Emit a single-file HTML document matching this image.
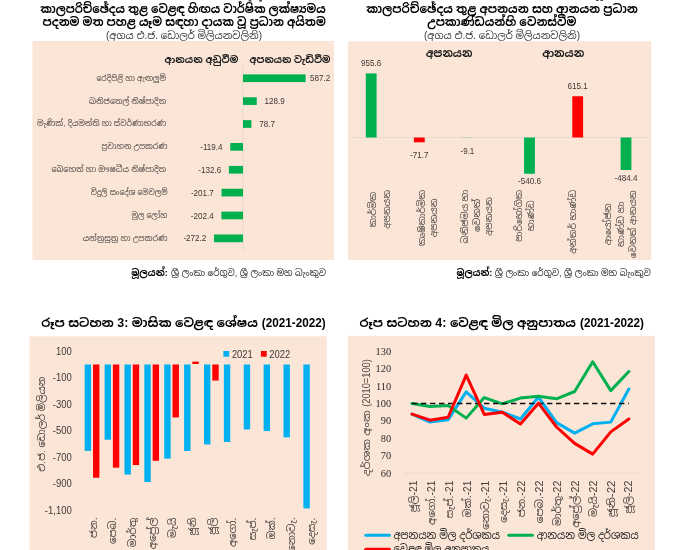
<!DOCTYPE html>
<html><head><meta charset="utf-8"><title>charts</title>
<style>
html,body{margin:0;padding:0;background:#fff;}
body{width:690px;height:550px;overflow:hidden;font-family:"Liberation Sans",sans-serif;}
svg{display:block;}
svg text.si{font-family:"Liberation Sans","Noto Sans Sinhala","Noto Serif Sinhala",sans-serif;}
</style></head><body>
<svg width="690" height="550" viewBox="0 0 690 550">
<defs>
<filter id="bl" x="0" y="0" width="100%" height="100%" filterUnits="userSpaceOnUse" primitiveUnits="userSpaceOnUse"><feGaussianBlur stdDeviation="0.55"/></filter>
</defs>
<g filter="url(#bl)">
<rect x="-5" y="-5" width="700" height="560" fill="#fff"/>
<rect x="32.5" y="41" width="301.6" height="218.9" fill="#FBE5D6"/>
<text class="si" x="40.3" y="12.6" font-size="12" font-weight="bold" fill="#000" textLength="285.3" lengthAdjust="spacingAndGlyphs">කාලපරිච්ඡේදය තුළ වෙළඳ හිඟය වාර්ෂික ලක්ෂ්‍යමය</text>
<text class="si" x="42.6" y="26.2" font-size="12" font-weight="bold" fill="#000" textLength="283.2" lengthAdjust="spacingAndGlyphs">පදනම මත පහළ යෑම සඳහා දායක වූ ප්‍රධාන අයිතම</text>
<text class="si" x="106" y="38.7" font-size="10" fill="#38332f" textLength="156" lengthAdjust="spacingAndGlyphs">(අගය එ.ජ. ඩොලර් මිලියනවලිනි)</text>
<text class="si" x="164.6" y="63.3" font-size="9.6" font-weight="bold" fill="#1a1a1a" textLength="73.7" lengthAdjust="spacingAndGlyphs">ආනයන අඩුවීම</text>
<text class="si" x="249.5" y="63.3" font-size="9.6" font-weight="bold" fill="#1a1a1a" textLength="81" lengthAdjust="spacingAndGlyphs">අපනයන වැඩිවීම</text>
<line x1="243" y1="66" x2="243" y2="251" stroke="#e6d6cb" stroke-width="0.8"/>
<rect x="243" y="74.4" width="62.6" height="7.7" fill="#00B050"/>
<text transform="translate(310.1 81.4) scale(0.94 1)" font-size="8.6" font-family="Liberation Sans" fill="#3c3836">587.2</text>
<text class="si" x="96.5" y="80.7" font-size="8" fill="#4a4643" textLength="69.6" lengthAdjust="spacingAndGlyphs">රෙදිපිළි හා ඇඟලුම්</text>
<rect x="243" y="97.27" width="13.74" height="7.7" fill="#00B050"/>
<text transform="translate(264.54 104.27) scale(0.94 1)" font-size="8.6" font-family="Liberation Sans" fill="#3c3836">128.9</text>
<text class="si" x="89" y="103.57" font-size="8" fill="#4a4643" textLength="77.2" lengthAdjust="spacingAndGlyphs">ඛනිජතෙල් නිෂ්පාදිත</text>
<rect x="243" y="120.14" width="8.39" height="7.7" fill="#00B050"/>
<text transform="translate(259.19 127.14) scale(0.94 1)" font-size="8.6" font-family="Liberation Sans" fill="#3c3836">78.7</text>
<text class="si" x="37.1" y="126.44" font-size="8" fill="#4a4643" textLength="128.9" lengthAdjust="spacingAndGlyphs">මැණික්, දියමන්ති හා ස්වර්ණාභරණ</text>
<rect x="230.27" y="143.01" width="12.73" height="7.7" fill="#00B050"/>
<text transform="translate(222.57 150.01) scale(0.94 1)" font-size="8.6" font-family="Liberation Sans" fill="#3c3836" text-anchor="end">-119.4</text>
<text class="si" x="101.5" y="149.31" font-size="8" fill="#4a4643" textLength="66" lengthAdjust="spacingAndGlyphs">ප්‍රවාහන උපකරණ</text>
<rect x="228.86" y="165.88" width="14.14" height="7.7" fill="#00B050"/>
<text transform="translate(221.16 172.88) scale(0.94 1)" font-size="8.6" font-family="Liberation Sans" fill="#3c3836" text-anchor="end">-132.6</text>
<text class="si" x="51.4" y="172.18" font-size="8" fill="#4a4643" textLength="114.8" lengthAdjust="spacingAndGlyphs">බෙහෙත් හා ඖෂධීය නිෂ්පාදිත</text>
<rect x="221.5" y="188.75" width="21.5" height="7.7" fill="#00B050"/>
<text transform="translate(213.8 195.75) scale(0.94 1)" font-size="8.6" font-family="Liberation Sans" fill="#3c3836" text-anchor="end">-201.7</text>
<text class="si" x="90.7" y="195.05" font-size="8" fill="#4a4643" textLength="77" lengthAdjust="spacingAndGlyphs">විදුලි සංදේශ මෙවලම්</text>
<rect x="221.42" y="211.62" width="21.58" height="7.7" fill="#00B050"/>
<text transform="translate(213.72 218.62) scale(0.94 1)" font-size="8.6" font-family="Liberation Sans" fill="#3c3836" text-anchor="end">-202.4</text>
<text class="si" x="131.6" y="217.92" font-size="8" fill="#4a4643" textLength="35.9" lengthAdjust="spacingAndGlyphs">මූල ලෝහ</text>
<rect x="213.98" y="234.49" width="29.02" height="7.7" fill="#00B050"/>
<text transform="translate(206.28 241.49) scale(0.94 1)" font-size="8.6" font-family="Liberation Sans" fill="#3c3836" text-anchor="end">-272.2</text>
<text class="si" x="82.7" y="240.79" font-size="8" fill="#4a4643" textLength="84.8" lengthAdjust="spacingAndGlyphs">යන්ත්‍රසූත්‍ර හා උපකරණ</text>
<text class="si" x="131.2" y="276.2" font-size="9.6" font-weight="bold" fill="#000" textLength="36.6" lengthAdjust="spacingAndGlyphs">මූලයන්:</text>
<text class="si" x="171" y="276.2" font-size="9.2" fill="#2e2a28" textLength="154.9" lengthAdjust="spacingAndGlyphs">ශ්‍රී ලංකා රේගුව, ශ්‍රී ලංකා මහ බැංකුව</text>
<rect x="348" y="41.3" width="303.3" height="218.7" fill="#FBE5D6"/>
<text class="si" x="366.3" y="12.6" font-size="12" font-weight="bold" fill="#000" textLength="271.4" lengthAdjust="spacingAndGlyphs">කාලපරිච්ඡේදය තුළ අපනයන සහ ආනයන ප්‍රධාන</text>
<text class="si" x="427.3" y="26.2" font-size="12" font-weight="bold" fill="#000" textLength="149.1" lengthAdjust="spacingAndGlyphs">උපකාණ්ඩයන්හි වෙනස්වීම</text>
<text class="si" x="424" y="38.7" font-size="10" fill="#38332f" textLength="156" lengthAdjust="spacingAndGlyphs">(අගය එ.ජ. ඩොලර් මිලියනවලිනි)</text>
<text class="si" x="425.7" y="56.8" font-size="11" font-weight="bold" fill="#1a1a1a" textLength="46.7" lengthAdjust="spacingAndGlyphs">අපනයන</text>
<text class="si" x="542.2" y="56.8" font-size="11" font-weight="bold" fill="#1a1a1a" textLength="42.1" lengthAdjust="spacingAndGlyphs">ආනයන</text>
<line x1="352" y1="137.5" x2="648" y2="137.5" stroke="#e6d6cb" stroke-width="0.8"/>
<rect x="365.8" y="73.38" width="10.8" height="64.12" fill="#00B050"/>
<text transform="translate(371.2 66.4) scale(0.94 1)" font-size="8.6" font-family="Liberation Sans" fill="#3c3836" text-anchor="middle">955.6</text>
<rect x="413.9" y="137.5" width="10.8" height="4.81" fill="#FF0000"/>
<text transform="translate(419.3 158.1) scale(0.94 1)" font-size="8.6" font-family="Liberation Sans" fill="#3c3836" text-anchor="middle">-71.7</text>
<rect x="462" y="137.5" width="10.8" height="0.61" fill="#9fcfae"/>
<text transform="translate(467.4 154.3) scale(0.94 1)" font-size="8.6" font-family="Liberation Sans" fill="#3c3836" text-anchor="middle">-9.1</text>
<rect x="524.1" y="137.5" width="10.8" height="36.27" fill="#00B050"/>
<text transform="translate(529.5 184.4) scale(0.94 1)" font-size="8.6" font-family="Liberation Sans" fill="#3c3836" text-anchor="middle">-540.6</text>
<rect x="572.3" y="96.23" width="10.8" height="41.27" fill="#FF0000"/>
<text transform="translate(577.7 89) scale(0.94 1)" font-size="8.6" font-family="Liberation Sans" fill="#3c3836" text-anchor="middle">615.1</text>
<rect x="620.6" y="137.5" width="10.8" height="32.5" fill="#00B050"/>
<text transform="translate(626 180.9) scale(0.94 1)" font-size="8.6" font-family="Liberation Sans" fill="#3c3836" text-anchor="middle">-484.4</text>
<text class="si" transform="translate(376.2 227.2) rotate(-90)" font-size="9" fill="#4a4643" textLength="35.4" lengthAdjust="spacingAndGlyphs">කාර්මික</text>
<text class="si" transform="translate(389.5 228.66) rotate(-90)" font-size="9" fill="#4a4643" textLength="38.6" lengthAdjust="spacingAndGlyphs">අපනයන</text>
<text class="si" transform="translate(424.6 246.11) rotate(-90)" font-size="9" fill="#4a4643" textLength="56.2" lengthAdjust="spacingAndGlyphs">කෘෂිකාර්මික</text>
<text class="si" transform="translate(437 237.19) rotate(-90)" font-size="9" fill="#4a4643" textLength="38.6" lengthAdjust="spacingAndGlyphs">අපනයන</text>
<text class="si" transform="translate(467.8 243.43) rotate(-90)" font-size="9" fill="#4a4643" textLength="53.8" lengthAdjust="spacingAndGlyphs">ඛනිජමය හා</text>
<text class="si" transform="translate(479.6 232.02) rotate(-90)" font-size="9" fill="#4a4643" textLength="33.3" lengthAdjust="spacingAndGlyphs">වෙනත්</text>
<text class="si" transform="translate(491.8 235.85) rotate(-90)" font-size="9" fill="#4a4643" textLength="38.6" lengthAdjust="spacingAndGlyphs">අපනයන</text>
<text class="si" transform="translate(521.6 241.73) rotate(-90)" font-size="9" fill="#4a4643" textLength="51.8" lengthAdjust="spacingAndGlyphs">පාරිභෝගික</text>
<text class="si" transform="translate(533.8 231.14) rotate(-90)" font-size="9" fill="#4a4643" textLength="30.9" lengthAdjust="spacingAndGlyphs">භාණ්ඩ</text>
<text class="si" transform="translate(575.8 253.72) rotate(-90)" font-size="9" fill="#4a4643" textLength="64" lengthAdjust="spacingAndGlyphs">අන්තර් භාණ්ඩ</text>
<text class="si" transform="translate(611.2 245.28) rotate(-90)" font-size="9" fill="#4a4643" textLength="41.9" lengthAdjust="spacingAndGlyphs">ආයෝජන</text>
<text class="si" transform="translate(623.6 247.02) rotate(-90)" font-size="9" fill="#4a4643" textLength="45.5" lengthAdjust="spacingAndGlyphs">භාණ්ඩ හා</text>
<text class="si" transform="translate(636.2 258.32) rotate(-90)" font-size="9" fill="#4a4643" textLength="68" lengthAdjust="spacingAndGlyphs">වෙනත් ආනයන</text>
<text class="si" x="456.6" y="276.2" font-size="9.6" font-weight="bold" fill="#000" textLength="35.7" lengthAdjust="spacingAndGlyphs">මූලයන්:</text>
<text class="si" x="494.8" y="276.2" font-size="9.2" fill="#2e2a28" textLength="156" lengthAdjust="spacingAndGlyphs">ශ්‍රී ලංකා රේගුව, ශ්‍රී ලංකා මහ බැංකුව</text>
<rect x="29.6" y="336.3" width="297.1" height="214.7" fill="#FBE5D6"/>
<text class="si" x="41.2" y="327" font-size="12" font-weight="bold" fill="#000" textLength="216.6" lengthAdjust="spacingAndGlyphs">රූප සටහන 3: මාසික වෙළඳ ශේෂය</text>
<text class="si" x="261.8" y="327" font-size="12" font-weight="bold" fill="#000" textLength="64" lengthAdjust="spacingAndGlyphs">(2021-2022)</text>
<text transform="translate(71.8 354.9) scale(0.95 1)" font-size="10" font-family="Liberation Sans" fill="#3c3836" text-anchor="end">100</text>
<text transform="translate(71.8 381.4) scale(0.95 1)" font-size="10" font-family="Liberation Sans" fill="#3c3836" text-anchor="end">-100</text>
<text transform="translate(71.8 407.9) scale(0.95 1)" font-size="10" font-family="Liberation Sans" fill="#3c3836" text-anchor="end">-300</text>
<text transform="translate(71.8 434.4) scale(0.95 1)" font-size="10" font-family="Liberation Sans" fill="#3c3836" text-anchor="end">-500</text>
<text transform="translate(71.8 460.9) scale(0.95 1)" font-size="10" font-family="Liberation Sans" fill="#3c3836" text-anchor="end">-700</text>
<text transform="translate(71.8 487.4) scale(0.95 1)" font-size="10" font-family="Liberation Sans" fill="#3c3836" text-anchor="end">-900</text>
<text transform="translate(71.8 513.9) scale(0.95 1)" font-size="10" font-family="Liberation Sans" fill="#3c3836" text-anchor="end">-1,100</text>
<rect x="84.7" y="364.5" width="6.4" height="86.4" fill="#00B0F0"/>
<rect x="104.58" y="364.5" width="6.4" height="75.18" fill="#00B0F0"/>
<rect x="124.46" y="364.5" width="6.4" height="110.06" fill="#00B0F0"/>
<rect x="144.34" y="364.5" width="6.4" height="117.48" fill="#00B0F0"/>
<rect x="164.22" y="364.5" width="6.4" height="94.15" fill="#00B0F0"/>
<rect x="184.1" y="364.5" width="6.4" height="86.46" fill="#00B0F0"/>
<rect x="203.98" y="364.5" width="6.4" height="79.96" fill="#00B0F0"/>
<rect x="223.86" y="364.5" width="6.4" height="77.44" fill="#00B0F0"/>
<rect x="243.74" y="364.5" width="6.4" height="64.97" fill="#00B0F0"/>
<rect x="263.62" y="364.5" width="6.4" height="66.43" fill="#00B0F0"/>
<rect x="283.5" y="364.5" width="6.4" height="72.8" fill="#00B0F0"/>
<rect x="303.38" y="364.5" width="6.4" height="143.87" fill="#00B0F0"/>
<rect x="93" y="364.5" width="6.4" height="113.24" fill="#FF0000"/>
<rect x="112.88" y="364.5" width="6.4" height="103.16" fill="#FF0000"/>
<rect x="132.76" y="364.5" width="6.4" height="100.51" fill="#FF0000"/>
<rect x="152.64" y="364.5" width="6.4" height="96.27" fill="#FF0000"/>
<rect x="172.52" y="364.5" width="6.4" height="52.91" fill="#FF0000"/>
<rect x="192.4" y="361.58" width="6.4" height="2.42" fill="#FF0000"/>
<rect x="212.28" y="364.5" width="6.4" height="16.04" fill="#FF0000"/>
<rect x="223.4" y="351" width="5.8" height="5.7" fill="#00B0F0"/>
<text transform="translate(231.9 357.5) scale(0.92 1)" font-size="10.2" font-family="Liberation Sans" fill="#3c3836">2021</text>
<rect x="260.9" y="351" width="5.8" height="5.7" fill="#FF0000"/>
<text transform="translate(269.3 357.5) scale(0.92 1)" font-size="10.2" font-family="Liberation Sans" fill="#3c3836">2022</text>
<text class="si" transform="translate(44.9 471.7) rotate(-90)" font-size="9.6" fill="#3c3835" textLength="95" lengthAdjust="spacingAndGlyphs">එ.ජ. ඩොලර් මිලියන</text>
<text class="si" transform="translate(96.5 538.03) rotate(-90)" font-size="10" fill="#45403d" textLength="20.5" lengthAdjust="spacingAndGlyphs">ජන.</text>
<text class="si" transform="translate(116.38 544.11) rotate(-90)" font-size="10" fill="#45403d" textLength="26.6" lengthAdjust="spacingAndGlyphs">පෙබ.</text>
<text class="si" transform="translate(136.26 547.15) rotate(-90)" font-size="10" fill="#45403d" textLength="29.6" lengthAdjust="spacingAndGlyphs">මාර්තු</text>
<text class="si" transform="translate(156.14 549.14) rotate(-90)" font-size="10" fill="#45403d" textLength="31.6" lengthAdjust="spacingAndGlyphs">අප්‍රේල්</text>
<text class="si" transform="translate(176.02 538.12) rotate(-90)" font-size="10" fill="#45403d" textLength="20.6" lengthAdjust="spacingAndGlyphs">මැයි</text>
<text class="si" transform="translate(195.9 535.42) rotate(-90)" font-size="10" fill="#45403d" textLength="17.9" lengthAdjust="spacingAndGlyphs">ජූනි</text>
<text class="si" transform="translate(215.78 534.71) rotate(-90)" font-size="10" fill="#45403d" textLength="17.2" lengthAdjust="spacingAndGlyphs">ජූලි</text>
<text class="si" transform="translate(235.66 547.03) rotate(-90)" font-size="10" fill="#45403d" textLength="29.5" lengthAdjust="spacingAndGlyphs">අගෝ.</text>
<text class="si" transform="translate(255.54 540.28) rotate(-90)" font-size="10" fill="#45403d" textLength="22.8" lengthAdjust="spacingAndGlyphs">සැප්.</text>
<text class="si" transform="translate(275.42 539.54) rotate(-90)" font-size="10" fill="#45403d" textLength="22" lengthAdjust="spacingAndGlyphs">ඔක්.</text>
<text class="si" transform="translate(295.3 551.87) rotate(-90)" font-size="10" fill="#45403d" textLength="34.4" lengthAdjust="spacingAndGlyphs">නොවැ.</text>
<text class="si" transform="translate(315.18 544.86) rotate(-90)" font-size="10" fill="#45403d" textLength="27.4" lengthAdjust="spacingAndGlyphs">දෙසැ.</text>
<rect x="348" y="335.8" width="306.9" height="215.2" fill="#FBE5D6"/>
<text class="si" x="359.5" y="327" font-size="12" font-weight="bold" fill="#000" textLength="216.4" lengthAdjust="spacingAndGlyphs">රූප සටහන 4: වෙළඳ මිල අනුපාතය</text>
<text class="si" x="580" y="327" font-size="12" font-weight="bold" fill="#000" textLength="64" lengthAdjust="spacingAndGlyphs">(2021-2022)</text>
<text transform="translate(391.2 354.8) scale(1 1)" font-size="10.4" font-family="Liberation Serif" fill="#2a2a2a" text-anchor="end">130</text>
<text transform="translate(391.2 372.2) scale(1 1)" font-size="10.4" font-family="Liberation Serif" fill="#2a2a2a" text-anchor="end">120</text>
<text transform="translate(391.2 389.6) scale(1 1)" font-size="10.4" font-family="Liberation Serif" fill="#2a2a2a" text-anchor="end">110</text>
<text transform="translate(391.2 407) scale(1 1)" font-size="10.4" font-family="Liberation Serif" fill="#2a2a2a" text-anchor="end">100</text>
<text transform="translate(391.2 424.4) scale(1 1)" font-size="10.4" font-family="Liberation Serif" fill="#2a2a2a" text-anchor="end">90</text>
<text transform="translate(391.2 441.8) scale(1 1)" font-size="10.4" font-family="Liberation Serif" fill="#2a2a2a" text-anchor="end">80</text>
<text transform="translate(391.2 459.2) scale(1 1)" font-size="10.4" font-family="Liberation Serif" fill="#2a2a2a" text-anchor="end">70</text>
<text transform="translate(391.2 476.6) scale(1 1)" font-size="10.4" font-family="Liberation Serif" fill="#2a2a2a" text-anchor="end">60</text>
<line x1="403" y1="473.2" x2="638" y2="473.2" stroke="#e6d5c9" stroke-width="0.7"/>
<polyline points="412,414.11 430.07,422.12 448.14,419.68 466.21,391.84 484.28,408.2 502.35,412.2 520.42,418.99 538.49,397.06 556.56,422.64 574.63,433.08 592.7,423.86 610.77,422.12 628.84,389.06" fill="none" stroke="#00B0F0" stroke-width="3" stroke-linejoin="round" stroke-linecap="round"/>
<polyline points="412,403.5 430.07,406.46 448.14,405.59 466.21,418.12 484.28,397.58 502.35,403.85 520.42,398.11 538.49,396.19 556.56,398.8 574.63,391.49 592.7,361.74 610.77,390.62 628.84,371.48" fill="none" stroke="#00B050" stroke-width="3" stroke-linejoin="round" stroke-linecap="round"/>
<line x1="412" y1="403.5" x2="628.84" y2="403.5" stroke="#111" stroke-width="1.4" stroke-dasharray="5.4 3.6"/>
<polyline points="412,414.11 430.07,420.2 448.14,417.25 466.21,375.14 484.28,414.46 502.35,412.2 520.42,424.03 538.49,403.15 556.56,426.99 574.63,443.35 592.7,454.13 610.77,431.86 628.84,418.99" fill="none" stroke="#FF0000" stroke-width="3" stroke-linejoin="round" stroke-linecap="round"/>
<text class="si" transform="translate(370.2 476.2) rotate(-90)" font-size="10" fill="#4a4643" textLength="66" lengthAdjust="spacingAndGlyphs">දර්ශක අංක</text>
<text class="si" transform="translate(370.2 406.8) rotate(-90)" font-size="10" fill="#4a4643" textLength="47.6" lengthAdjust="spacingAndGlyphs">(2010=100)</text>
<text class="si" transform="translate(417.3 512.3) rotate(-90)" font-size="10" fill="#45403d" textLength="31.7" lengthAdjust="spacingAndGlyphs">ජූලි-21</text>
<text class="si" transform="translate(435.23 524.91) rotate(-90)" font-size="10" fill="#45403d" textLength="44.3" lengthAdjust="spacingAndGlyphs">අගෝ.-21</text>
<text class="si" transform="translate(453.16 518.16) rotate(-90)" font-size="10" fill="#45403d" textLength="37.6" lengthAdjust="spacingAndGlyphs">සැප්.-21</text>
<text class="si" transform="translate(471.09 517.42) rotate(-90)" font-size="10" fill="#45403d" textLength="36.8" lengthAdjust="spacingAndGlyphs">ඔක්.-21</text>
<text class="si" transform="translate(489.02 529.75) rotate(-90)" font-size="10" fill="#45403d" textLength="49.1" lengthAdjust="spacingAndGlyphs">නොවැ.-21</text>
<text class="si" transform="translate(506.95 522.74) rotate(-90)" font-size="10" fill="#45403d" textLength="42.1" lengthAdjust="spacingAndGlyphs">දෙසැ.-21</text>
<text class="si" transform="translate(524.88 517.22) rotate(-90)" font-size="10" fill="#45403d" textLength="36.6" lengthAdjust="spacingAndGlyphs">ජන.-22</text>
<text class="si" transform="translate(542.81 523.3) rotate(-90)" font-size="10" fill="#45403d" textLength="42.7" lengthAdjust="spacingAndGlyphs">පෙබ.-22</text>
<text class="si" transform="translate(560.74 526.1) rotate(-90)" font-size="10" fill="#45403d" textLength="45.5" lengthAdjust="spacingAndGlyphs">මාර්තු-22</text>
<text class="si" transform="translate(578.67 527.76) rotate(-90)" font-size="10" fill="#45403d" textLength="47.2" lengthAdjust="spacingAndGlyphs">අප්‍රේල්-22</text>
<text class="si" transform="translate(596.6 517.07) rotate(-90)" font-size="10" fill="#45403d" textLength="36.5" lengthAdjust="spacingAndGlyphs">මැයි-22</text>
<text class="si" transform="translate(614.53 517.37) rotate(-90)" font-size="10" fill="#45403d" textLength="36.8" lengthAdjust="spacingAndGlyphs">ජූනි-22</text>
<text class="si" transform="translate(632.46 513.61) rotate(-90)" font-size="10" fill="#45403d" textLength="33" lengthAdjust="spacingAndGlyphs">ජූලි-22</text>
<line x1="365.8" y1="535.2" x2="389.4" y2="535.2" stroke="#00B0F0" stroke-width="3" stroke-linecap="round"/>
<text class="si" x="393.4" y="538.8" font-size="11.5" fill="#222" textLength="106.7" lengthAdjust="spacingAndGlyphs">අපනයන මිල දර්ශකය</text>
<line x1="508.7" y1="535.2" x2="532.4" y2="535.2" stroke="#00B050" stroke-width="3" stroke-linecap="round"/>
<text class="si" x="536.8" y="538.8" font-size="11.5" fill="#222" textLength="101.9" lengthAdjust="spacingAndGlyphs">ආනයන මිල දර්ශකය</text>
<line x1="365.8" y1="549.2" x2="389.4" y2="549.2" stroke="#FF0000" stroke-width="3" stroke-linecap="round"/>
<text class="si" x="393.4" y="553" font-size="11.5" fill="#222" textLength="96" lengthAdjust="spacingAndGlyphs">වෙළඳ මිල අනුපාතය</text>
<rect x="248.6" y="-1" width="2.8" height="2.6" fill="#222" opacity="0.8"/>
<rect x="259.2" y="-1" width="2.8" height="2.6" fill="#222" opacity="0.8"/>
<rect x="596" y="-1" width="2.6" height="2" fill="#222" opacity="0.8"/>
<rect x="600.4" y="-1" width="2.6" height="2" fill="#222" opacity="0.8"/>
</g>
</svg>
</body></html>
